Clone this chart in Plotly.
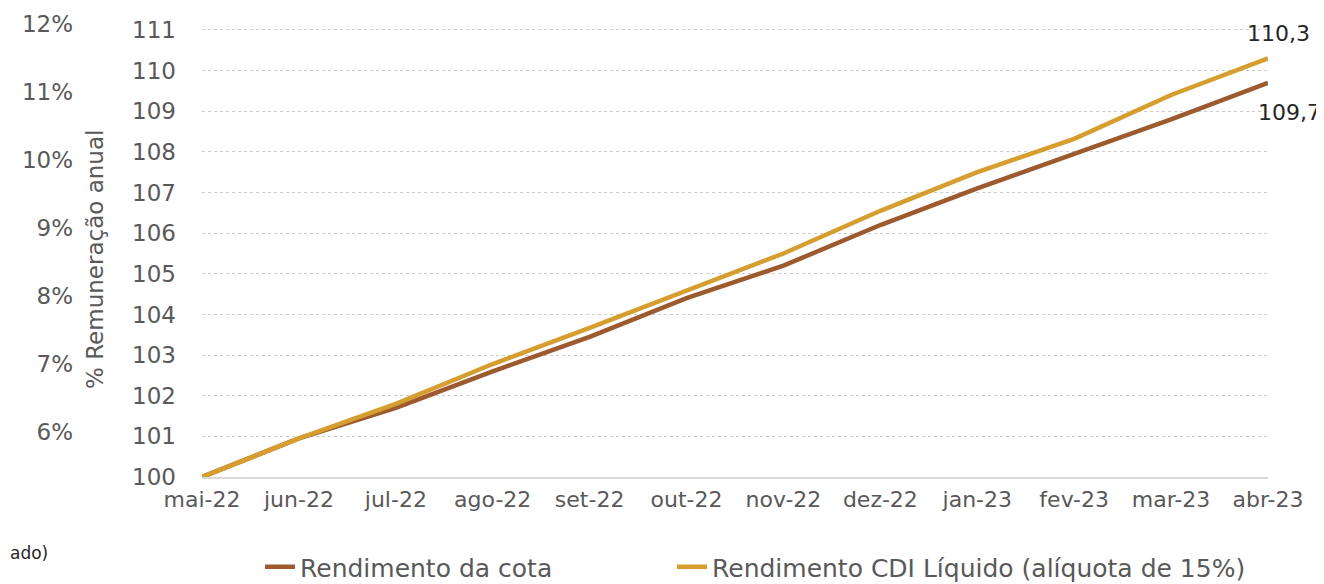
import plotly.graph_objects as go

categories = ["mai-22", "jun-22", "jul-22", "ago-22", "set-22", "out-22",
              "nov-22", "dez-22", "jan-23", "fev-23", "mar-23", "abr-23"]
cota = [100, 100.95, 101.7, 102.6, 103.45, 104.4, 105.2, 106.2, 107.1, 107.95, 108.8, 109.7]
cdi = [100, 100.95, 101.8, 102.78, 103.67, 104.58, 105.5, 106.55, 107.5, 108.32, 109.4, 110.3]
y_ticks = list(range(100, 112))
pct_ticks = [6, 7, 8, 9, 10, 11, 12]
pct_labels = [f"{v}%" for v in pct_ticks]

name_cota = "Rendimento da cota"
name_cdi = "Rendimento CDI Líquido (alíquota de 15%)"

C_COTA = "#9c5a2e"
C_CDI = "#d69e2e"
GRAY = "#595959"
DARK = "#262626"
FONT = "DejaVu Sans"

# page offset of the figure (body margin)
OFF = 8
W, H = 1324 - OFF, 584 - OFF
ML, MR, MT, MB = 73 - OFF, 56, 20 - OFF, 107
plot_w = W - ML - MR
plot_h = H - MT - MB
x0_page = 202
dom0 = (x0_page - OFF - ML) / plot_w

def px_x(page_x):
    return (page_x - OFF - ML) / plot_w

def px_y(page_y):
    return (H - MB - (page_y - OFF)) / plot_h

PX_PER_UNIT = 40.64
PX_PER_PCT = 68.0
y_top = 100 + plot_h / PX_PER_UNIT
pct_top = 12 + (20 - 24) / -PX_PER_PCT  # 12% label sits 4 px below plot top

fig = go.Figure()
fig.add_trace(go.Scatter(x=categories, y=cota, mode="lines", name=name_cota,
                         line=dict(color=C_COTA, width=4.5), cliponaxis=False,
                         legend="legend"))
fig.add_trace(go.Scatter(x=categories, y=cdi, mode="lines", name=name_cdi,
                         line=dict(color=C_CDI, width=4.5), cliponaxis=False,
                         legend="legend2"))
fig.add_trace(go.Scatter(x=[], y=[], yaxis="y2", showlegend=False, hoverinfo="skip"))

def fmt(v):
    return f"{v:.1f}".replace(".", ",")

fig.add_annotation(x=categories[-1], y=cdi[-1], text=fmt(cdi[-1]), showarrow=False,
                   xanchor="center", yanchor="middle",
                   xshift=10, yshift=25, font=dict(family=FONT, size=22, color=DARK))
fig.add_annotation(x=categories[-1], y=cota[-1], text=fmt(cota[-1]), showarrow=False,
                   xanchor="center", yanchor="middle",
                   xshift=21, yshift=-30, font=dict(family=FONT, size=22, color=DARK))
fig.add_annotation(xref="paper", yref="paper", x=px_x(95), y=px_y(260),
                   xanchor="center", yanchor="middle",
                   text="% Remuneração anual", textangle=-90, showarrow=False,
                   font=dict(family=FONT, size=23, color=GRAY))
fig.add_annotation(xref="paper", yref="paper", x=px_x(OFF), xanchor="left",
                   y=px_y(553), yanchor="middle", text="ado)", showarrow=False,
                   font=dict(family=FONT, size=17, color=DARK))

legend_common = dict(orientation="h", xanchor="left", yanchor="middle",
                     y=px_y(567), bgcolor="rgba(0,0,0,0)",
                     font=dict(family=FONT, size=25, color=GRAY))

fig.update_layout(
    width=W, height=H,
    margin=dict(l=ML, r=MR, t=MT, b=MB, autoexpand=False),
    paper_bgcolor="white", plot_bgcolor="white",
    font=dict(family=FONT, size=22, color=GRAY),
    xaxis=dict(domain=[dom0, 1], range=[0, 11], showgrid=False, zeroline=False,
               showline=True, linecolor="#d9d9d9", linewidth=2, ticks="",
               automargin=False, ticklabelstandoff=2,
               tickfont=dict(size=22, color=GRAY)),
    yaxis=dict(range=[100, y_top], tickvals=y_ticks, showgrid=True,
               gridcolor="#cccccc", griddash="dot", gridwidth=1, zeroline=False,
               showline=False, ticks="", ticklabelstandoff=25, automargin=False,
               tickfont=dict(size=23, color=GRAY)),
    yaxis2=dict(overlaying="y", anchor="free", position=0, side="left",
                range=[pct_top - plot_h / PX_PER_PCT, pct_top], tickvals=pct_ticks,
                ticktext=pct_labels, automargin=False,
                showgrid=False, zeroline=False, showline=False, ticks="",
                ticklabelstandoff=0, tickfont=dict(size=23, color=GRAY)),
    legend=dict(x=px_x(260), **legend_common),
    legend2=dict(x=px_x(672), **legend_common),
    showlegend=True,
)

fig.write_html("out.html")
